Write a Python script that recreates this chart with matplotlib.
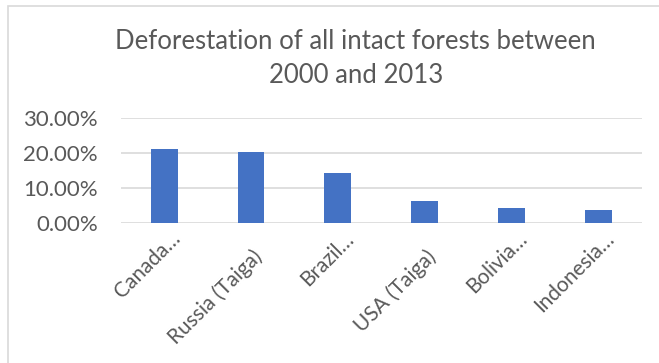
import numpy as np
from matplotlib import pyplot as plt
from matplotlib.patches import Rectangle
from matplotlib.ticker import PercentFormatter
from matplotlib.transforms import ScaledTranslation

regions = ['Canada…', 'Russia (Taiga)', 'Brazil…', 'USA (Taiga)', 'Bolivia…', 'Indonesia…']
loss_pct = [21.3, 20.3, 14.2, 6.1, 4.1, 3.6]
y_ticks = [0, 10, 20, 30]

plt.rcParams['font.family'] = ['Lato', 'DejaVu Sans']
grey = '#595959'

fig = plt.figure(figsize=(6.59, 3.63), dpi=100)
ax = fig.add_axes([0.1832, 0.3865, 0.7905, 0.2876])

x = np.arange(len(regions))
ax.bar(x, loss_pct, width=0.31, color='#4472C4', zorder=3)

ax.set_xlim(-0.5, len(regions) - 0.5)
ax.set_ylim(0, 30)
ax.set_yticks(y_ticks)
ax.yaxis.set_major_formatter(PercentFormatter(decimals=2))
ax.grid(axis='y', color='#d9d9d9', linewidth=1.2, zorder=0)
for s in ax.spines.values():
    s.set_visible(False)
ax.tick_params(length=0, colors=grey)
ax.tick_params(axis='y', pad=16.3, labelsize=16)

ax.set_xticks(x)
ax.set_xticklabels(regions, rotation=45, ha='right', va='baseline', rotation_mode='anchor')
ax.tick_params(axis='x', pad=0, labelsize=15)
# excel puts the truncated (wrapped) labels a bit higher than the full ones
for lbl in ax.get_xticklabels():
    if lbl.get_text().endswith('…'):
        off = ScaledTranslation(0.17, -0.173, fig.dpi_scale_trans)
    else:
        off = ScaledTranslation(0.13, -0.35, fig.dpi_scale_trans)
    lbl.set_transform(lbl.get_transform() + off)

# title, two lines like the original
fig.text(0.540, 1 - 49.3 / 363, 'Deforestation of all intact forests between',
         ha='center', va='baseline', fontsize=18.5, color=grey)
fig.text(0.540, 1 - 83.3 / 363, '2000 and 2013',
         ha='center', va='baseline', fontsize=18.5, color=grey)

fig.patches.append(Rectangle((8 / 659, -0.1), 2, 1.1 - 6 / 363, transform=fig.transFigure,
                             fill=False, edgecolor='#d9d9d9', linewidth=1.2))

plt.savefig('out.png', dpi=100)
